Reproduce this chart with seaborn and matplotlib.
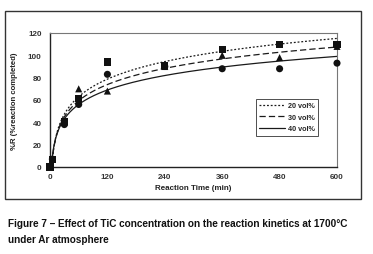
import numpy as np
import pandas as pd
import matplotlib
matplotlib.use("Agg")
import matplotlib.pyplot as plt
import seaborn as sns
from matplotlib.patches import Rectangle

# ---- data ----
time_min = [0, 5, 30, 60, 120, 240, 360, 480, 600]
r_20 = [0, 7, 41, 61, 94, 91, 105, 110, 110]      # squares
r_30 = [0, 7, 40, 70, 68, 90, 100, 98, 108]       # triangles
r_40 = [0, 7, 38, 56, 83, 90, 88, 88, 93]         # circles
series_labels = ["20 vol%", "30 vol%", "40 vol%"]
x_ticks = [0, 120, 240, 360, 480, 600]
y_ticks = [0, 20, 40, 60, 80, 100, 120]

sns.set_theme(style="white")
plt.rcParams['font.family'] = ['Liberation Sans', 'DejaVu Sans']

df = pd.DataFrame({"t": time_min * 3,
                   "R": r_20 + r_30 + r_40,
                   "s": sum([[s] * len(time_min) for s in series_labels], [])})

fig = plt.figure(figsize=(3.73, 2.55), dpi=100)
fig.patch.set_facecolor("white")
fig.add_artist(Rectangle((5 / 373, 1 - 200 / 255), 356 / 373, 188 / 255,
                         transform=fig.transFigure, fill=False,
                         edgecolor="#333333", linewidth=1.0))
ax = fig.add_axes([50 / 373, 1 - 168 / 255, 287 / 373, 134 / 255])

markers = {"20 vol%": "s", "30 vol%": "^", "40 vol%": "o"}
styles = {"20 vol%": (0, (1.5, 1.5)), "30 vol%": (0, (5, 2.5)), "40 vol%": "-"}

# logarithmic trend lines (least-squares fit of R on ln t, t > 0)
tt = np.linspace(4, 600, 400)
for lab in series_labels:
    d = df[(df.s == lab) & (df.t > 0)]
    a, b = np.polyfit(np.log(d.t.values.astype(float)), d.R.values.astype(float), 1)
    yy = a * np.log(tt) + b
    m = yy >= 0
    sns.lineplot(x=tt[m], y=yy[m], ax=ax, color="#1a1a1a",
                 linewidth=0.9, linestyle=styles[lab], label=lab)

for lab in series_labels:
    d = df[df.s == lab]
    sns.scatterplot(data=d, x="t", y="R", ax=ax, marker=markers[lab],
                    color="#111111", s=26, edgecolor="none", legend=False,
                    zorder=5, clip_on=False)

ax.set_xlim(0, 600)
ax.set_ylim(0, 120)
ax.set_xticks(x_ticks)
ax.set_yticks(y_ticks)
ax.set_xticklabels([str(v) for v in x_ticks], fontsize=5.8, fontweight="bold", color="#333333")
ax.set_yticklabels([str(v) for v in y_ticks], fontsize=5.8, fontweight="bold", color="#333333")
ax.tick_params(axis="x", direction="in", length=3, width=0.6, pad=4, color="#555555")
ax.tick_params(axis="y", direction="out", length=3, width=0.6, pad=3, color="#333333")
ax.set_xlabel("Reaction Time (min)", fontsize=5.8, fontweight="bold", color="#222222", labelpad=3)
ax.set_ylabel("%R (%reaction completed)", fontsize=5.6, fontweight="bold", color="#222222", labelpad=7)
for side in ["top", "right"]:
    ax.spines[side].set_color("#777777")
    ax.spines[side].set_linewidth(0.8)
for side in ["left", "bottom"]:
    ax.spines[side].set_color("#222222")
    ax.spines[side].set_linewidth(1.0)

leg = ax.legend(loc="upper left", bbox_to_anchor=(0.717, 0.51), fontsize=5.2,
                frameon=True, fancybox=False, edgecolor="#222222",
                handlelength=3.6, handletextpad=0.3, borderpad=0.5,
                labelspacing=0.6, borderaxespad=0)
leg.get_frame().set_linewidth(0.7)
for txt in leg.get_texts():
    txt.set_fontweight("bold")

fig.text(8 / 373, 1 - 224 / 255,
         "Figure 7 \u2013 Effect of TiC concentration on the reaction kinetics at 1700\u00b0C",
         fontsize=7.2, fontweight="bold", color="#111111", va="center", ha="left")
fig.text(8 / 373, 1 - 240 / 255, "under Ar atmosphere",
         fontsize=7.2, fontweight="bold", color="#111111", va="center", ha="left")

fig.savefig("out.png", dpi=100)
